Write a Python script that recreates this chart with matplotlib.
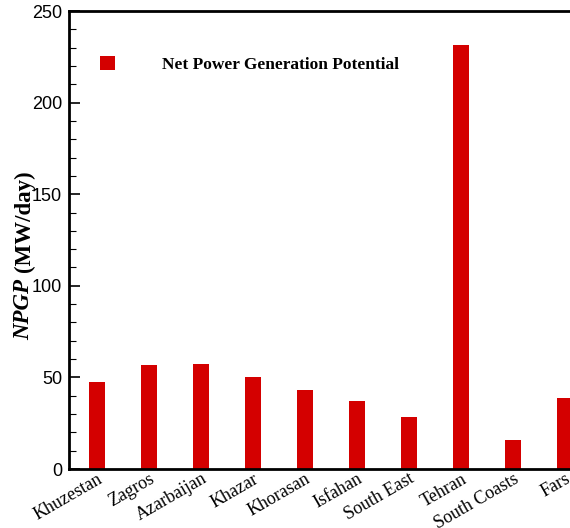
import matplotlib
matplotlib.use("Agg")
import matplotlib.pyplot as plt
from matplotlib.patches import Patch
from matplotlib.ticker import MultipleLocator
from matplotlib.transforms import ScaledTranslation

regions = ["Khuzestan", "Zagros", "Azarbaijan", "Khazar", "Khorasan",
           "Isfahan", "South East", "Tehran", "South Coasts", "Fars"]
npgp = [47.5, 56.8, 57.3, 50.2, 43.1, 37.1, 28.4, 231.4, 15.8, 38.8]
yticks = [0, 50, 100, 150, 200, 250]

red = "#d40000"
fig = plt.figure(figsize=(5.7, 5.28), dpi=100)
ax = fig.add_axes([69/570, 59/528, 524/570, 458/528])

x = list(range(len(regions)))
ax.bar(x, npgp, width=0.31, color=red, zorder=2)
ax.set_xlim(-0.54, 9.54)
ax.set_ylim(0, 250)
ax.set_yticks(yticks)
ax.yaxis.set_minor_locator(MultipleLocator(10))
ax.set_xticks(x)
ax.set_xticklabels(regions, rotation=30, ha="right", rotation_mode="anchor",
                   family="Liberation Serif", fontsize=13)
offset = ScaledTranslation(5/100, 3/100, fig.dpi_scale_trans)
for lab in ax.get_xticklabels():
    lab.set_transform(lab.get_transform() + offset)
for lab in ax.get_yticklabels():
    lab.set_family("Liberation Sans")
    lab.set_fontsize(13)
ax.tick_params(axis="y", which="major", direction="in", length=8, width=1.2, pad=5, right=False)
ax.tick_params(axis="y", which="minor", direction="in", length=5, width=0.8, right=False)
ax.tick_params(axis="x", length=0, pad=1)
for s in ["left", "bottom", "top"]:
    ax.spines[s].set_linewidth(2)
ax.spines["right"].set_visible(False)

# y-axis label built from two parts (bold italic symbol + bold unit)
fig.text(24/570, (528-310)/528, "NPGP", rotation=90, family="Liberation Serif",
         fontsize=16.5, fontweight="bold", fontstyle="italic", ha="center", va="center")
fig.text(24/570, (528-221)/528, "(MW/day)", rotation=90, family="Liberation Serif",
         fontsize=16.5, fontweight="bold", ha="center", va="center")

leg = ax.legend(handles=[Patch(facecolor=red, edgecolor="none")],
                labels=["Net Power Generation Potential"],
                loc="upper left", bbox_to_anchor=(100/570, (528-56)/528),
                bbox_transform=fig.transFigure, frameon=False,
                borderpad=0, borderaxespad=0,
                handlelength=0.87, handleheight=0.9, handletextpad=2.7,
                prop={"family": "Liberation Serif", "weight": "bold", "size": 12.5})

fig.savefig("out.png", dpi=100)
